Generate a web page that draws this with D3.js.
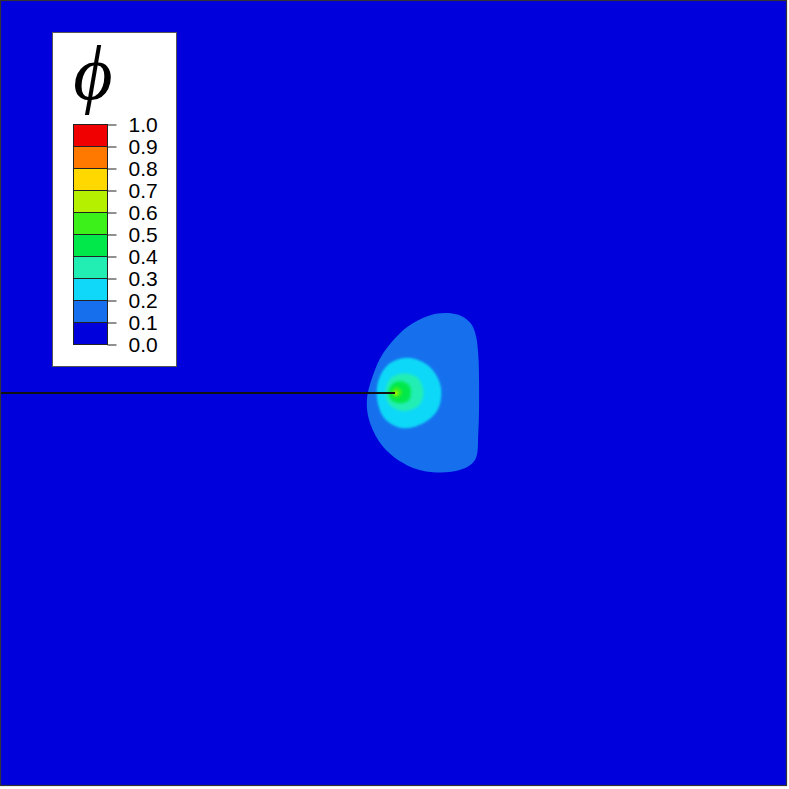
<!DOCTYPE html>
<html><head><meta charset="utf-8">
<script src="https://cdn.jsdelivr.net/npm/d3@7"></script>
<style>html,body{margin:0;padding:0;background:#fff;}svg{display:block;}</style>
</head><body>
<script>
// Contour band levels and colours (legend)
const levels = [0.0,0.1,0.2,0.3,0.4,0.5,0.6,0.7,0.8,0.9,1.0];
const bandColors = ["#0000dc","#1670ee","#10d8f8","#22eeb4","#00e84a","#3cf01a","#b4f000","#ffd800","#ff7800","#f00000"];
const tickLabels = ["0.0","0.1","0.2","0.3","0.4","0.5","0.6","0.7","0.8","0.9","1.0"];

// Iso-contour outlines of phi (domain units, x,y in [0,1])
const contour01 = [[0.568,0.602],[0.587,0.598],[0.599,0.588],[0.605,0.573],[0.608,0.548],[0.609,0.513],[0.608,0.449],[0.604,0.415],[0.585,0.402],[0.550,0.399],[0.517,0.408],[0.487,0.431],[0.470,0.462],[0.466,0.490],[0.473,0.520],[0.487,0.551],[0.517,0.584],[0.546,0.599]];
const contour02 = [[0.517,0.545],[0.543,0.536],[0.557,0.518],[0.561,0.500],[0.556,0.478],[0.539,0.462],[0.513,0.455],[0.490,0.466],[0.480,0.487],[0.480,0.513],[0.493,0.536]];
const contour03 = [[0.513,0.525],[0.530,0.520],[0.538,0.502],[0.533,0.485],[0.515,0.477],[0.497,0.483],[0.490,0.501],[0.497,0.519]];
const contour04 = [[0.508,0.515],[0.520,0.510],[0.522,0.500],[0.519,0.490],[0.507,0.487],[0.497,0.491],[0.494,0.501],[0.498,0.511]];
const contour05 = [[0.504,0.508],[0.511,0.501],[0.504,0.494],[0.497,0.501]];
const contour06 = [[0.503,0.503],[0.506,0.500],[0.503,0.497],[0.500,0.500]];
const contours = [
  {level:0.1, pts:contour01, blur:0},
  {level:0.2, pts:contour02, blur:1},
  {level:0.3, pts:contour03, blur:1.5},
  {level:0.4, pts:contour04, blur:1.5},
  {level:0.5, pts:contour05, blur:1.5},
  {level:0.6, pts:contour06, blur:1}
];
// crack line
const crack = [[0.0,0.5],[0.502,0.5]];

const W = 789, H = 789;
const svg = d3.select("body").append("svg").attr("width",W).attr("height",H);
const x = d3.scaleLinear().domain([0,1]).range([1,786]);
const y = d3.scaleLinear().domain([0,1]).range([785,1]);
const color = d3.scaleThreshold().domain(levels.slice(1,-1)).range(bandColors);

const defs = svg.append("defs");
[1,1.5].forEach(s=>{
  defs.append("filter").attr("id","b"+String(s).replace(".","_"))
    .attr("x","-50%").attr("y","-50%").attr("width","200%").attr("height","200%")
    .append("feGaussianBlur").attr("stdDeviation",s);
});
defs.append("clipPath").attr("id","dom").append("rect")
  .attr("x",x(0)).attr("y",y(1)).attr("width",x(1)-x(0)).attr("height",y(0)-y(1));

const plot = svg.append("g").attr("clip-path","url(#dom)");
plot.append("rect").attr("x",x(0)).attr("y",y(1)).attr("width",x(1)-x(0)).attr("height",y(0)-y(1))
  .attr("fill",color(0.05));

const line = d3.line().x(d=>x(d[0])).y(d=>y(d[1])).curve(d3.curveCatmullRomClosed.alpha(0.5));
plot.selectAll("path.c").data(contours).join("path").attr("class","c")
  .attr("d",d=>line(d.pts))
  .attr("fill",d=>color(d.level+0.05))
  .attr("filter",d=>d.blur?`url(#b${String(d.blur).replace(".","_")})`:null);

plot.append("path").attr("d",d3.line().x(d=>x(d[0])).y(d=>y(d[1]))(crack))
  .attr("stroke","#111").attr("stroke-width",2).attr("fill","none");

svg.append("rect").attr("x",x(0)-0.5).attr("y",y(1)-0.5).attr("width",x(1)-x(0)+1).attr("height",y(0)-y(1)+1)
  .attr("fill","none").attr("stroke","#333").attr("stroke-width",1.2);

// Legend
const lg = svg.append("g");
lg.append("rect").attr("x",52.5).attr("y",32.5).attr("width",124).attr("height",334)
  .attr("fill","#fff").attr("stroke","#555").attr("stroke-width",1);
lg.append("text").attr("x",93).attr("y",99).attr("text-anchor","middle")
  .attr("font-family","'Liberation Serif','DejaVu Serif',serif").attr("font-style","italic")
  .attr("font-size",76).attr("fill","#000").text("\u03D5");

const ly = d3.scaleLinear().domain([0,1]).range([344.5,124.5]);
const bx0 = 73.5, bx1 = 107.5;
lg.selectAll("rect.band").data(d3.range(bandColors.length)).join("rect").attr("class","band")
  .attr("x",bx0).attr("width",bx1-bx0)
  .attr("y",i=>ly(levels[i+1])).attr("height",i=>ly(levels[i])-ly(levels[i+1]))
  .attr("fill",i=>bandColors[i]).attr("stroke","#222").attr("stroke-width",1);

const axis = d3.axisRight(ly).tickValues(levels).tickFormat((d,i)=>tickLabels[i])
  .tickSizeInner(9).tickSizeOuter(0).tickPadding(12);
const ag = lg.append("g").attr("transform",`translate(${bx1},0)`).call(axis);
ag.select(".domain").remove();
ag.selectAll(".tick line").attr("stroke","#222");
ag.selectAll(".tick text").attr("font-family","'Liberation Sans',Arial,sans-serif")
  .attr("font-size",21).attr("fill","#000");
</script>
</body></html>
